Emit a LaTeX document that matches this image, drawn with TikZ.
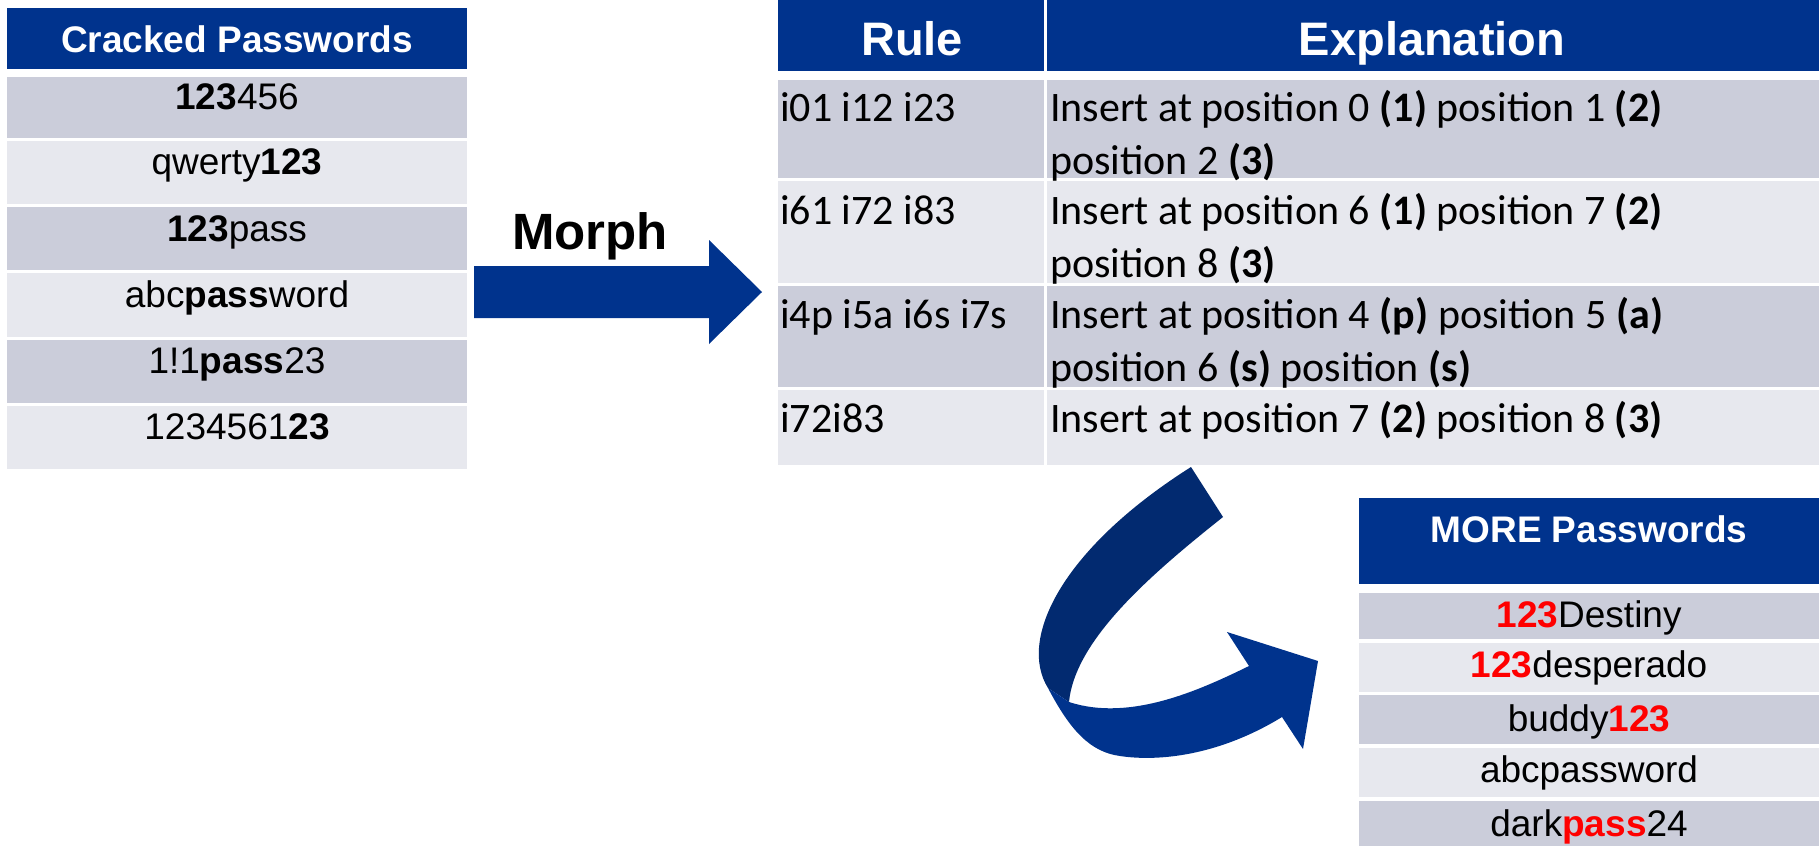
\documentclass[tikz,border=0pt]{standalone}
\usepackage{fontspec}
\setmainfont{Liberation Sans}
\newfontfamily\calfont{Carlito}
\definecolor{hdrblue}{RGB}{0,51,141}
\definecolor{backblue}{RGB}{2,42,112}
\definecolor{rowdark}{RGB}{203,205,218}
\definecolor{rowlight}{RGB}{231,232,238}
\definecolor{pwred}{RGB}{255,0,0}
\begin{document}
\begin{tikzpicture}[x=1pt,y=-1pt,
  cell/.style={anchor=north west, inner sep=0pt, outer sep=0pt, draw=none},
  ptxt/.style={anchor=base, inner sep=0pt, font=\fontsize{37}{44}\selectfont},
  htxt/.style={anchor=base, inner sep=0pt, text=white, font=\bfseries\fontsize{37}{44}\selectfont},
  bightxt/.style={anchor=base, inner sep=0pt, text=white, font=\bfseries\fontsize{47}{56}\selectfont},
  rtxt/.style={anchor=base west, inner sep=0pt, font=\calfont\fontsize{42}{50}\selectfont},
  morphtxt/.style={anchor=base, inner sep=0pt, font=\bfseries\fontsize{51}{60}\selectfont}]
\useasboundingbox (0,0) rectangle (1819,846);
\fill[white] (0,0) rectangle (1819,846);

% ---------- Left table: Cracked Passwords ----------
\node[cell, fill=hdrblue, minimum width=460pt, minimum height=61pt] (lh) at (7,8) {};
\node[cell, fill=rowdark,  minimum width=460pt, minimum height=61pt] (lr1) at (7,77) {};
\node[cell, fill=rowlight, minimum width=460pt, minimum height=63pt] (lr2) at (7,141) {};
\node[cell, fill=rowdark,  minimum width=460pt, minimum height=63pt] (lr3) at (7,207) {};
\node[cell, fill=rowlight, minimum width=460pt, minimum height=64pt] (lr4) at (7,273) {};
\node[cell, fill=rowdark,  minimum width=460pt, minimum height=63pt] (lr5) at (7,340) {};
\node[cell, fill=rowlight, minimum width=460pt, minimum height=63pt] (lr6) at (7,406) {};
\node[htxt] (lht) at (237,52) {Cracked Passwords};
\node[ptxt] (lt1) at (237,109) {\textbf{123}456};
\node[ptxt] (lt2) at (237,174) {qwerty\textbf{123}};
\node[ptxt] (lt3) at (237,241) {\textbf{123}pass};
\node[ptxt] (lt4) at (237,307) {abc\textbf{pass}word};
\node[ptxt] (lt5) at (237,373) {1!1\textbf{pass}23};
\node[ptxt] (lt6) at (237,439) {1234561\textbf{23}};

% ---------- Morph arrow ----------
\fill[hdrblue] (474,266) -- (709,266) -- (709,240) -- (762,292) -- (709,344) -- (709,318) -- (474,318) -- cycle;
\node[morphtxt] (morph) at (590,249) {Morph};

% ---------- Rule table ----------
\node[cell, fill=hdrblue, minimum width=266pt, minimum height=71pt] (rh1) at (778,0) {};
\node[cell, fill=hdrblue, minimum width=772pt, minimum height=71pt] (rh2) at (1047,0) {};
\node[cell, fill=rowdark,  minimum width=266pt, minimum height=98pt]  (ra1) at (778,80) {};
\node[cell, fill=rowdark,  minimum width=772pt, minimum height=98pt]  (rb1) at (1047,80) {};
\node[cell, fill=rowlight, minimum width=266pt, minimum height=102pt] (ra2) at (778,181) {};
\node[cell, fill=rowlight, minimum width=772pt, minimum height=102pt] (rb2) at (1047,181) {};
\node[cell, fill=rowdark,  minimum width=266pt, minimum height=101pt] (ra3) at (778,286) {};
\node[cell, fill=rowdark,  minimum width=772pt, minimum height=101pt] (rb3) at (1047,286) {};
\node[cell, fill=rowlight, minimum width=266pt, minimum height=75pt]  (ra4) at (778,390) {};
\node[cell, fill=rowlight, minimum width=772pt, minimum height=75pt]  (rb4) at (1047,390) {};
\node[bightxt] (rht1) at (912,55) {Rule};
\node[bightxt] (rht2) at (1432,55) {Explanation};

\node[rtxt] (ra1t) at (780,121) {i01 i12 i23};
\node[rtxt] (rb1t) at (1050,121) {Insert at position 0 \textbf{(1)} position 1 \textbf{(2)}};
\node[rtxt] (rb1u) at (1050,174) {position 2 \textbf{(3)}};
\node[rtxt] (ra2t) at (780,224) {i61 i72 i83};
\node[rtxt] (rb2t) at (1050,224) {Insert at position 6 \textbf{(1)} position 7 \textbf{(2)}};
\node[rtxt] (rb2u) at (1050,277) {position 8 \textbf{(3)}};
\node[rtxt] (ra3t) at (780,328) {i4p i5a i6s i7s};
\node[rtxt] (rb3t) at (1050,328) {Insert at position 4 \textbf{(p)} position 5 \textbf{(a)}};
\node[rtxt] (rb3u) at (1050,381) {position 6 \textbf{(s)} position \textbf{(s)}};
\node[rtxt] (ra4t) at (780,432) {i72i83};
\node[rtxt] (rb4t) at (1050,432) {Insert at position 7 \textbf{(2)} position 8 \textbf{(3)}};

% ---------- Curved ribbon arrow ----------
\fill[backblue] (1191,467) -- (1223,517)
  .. controls (1150,575) and (1075,640) .. (1069,702)
  -- (1048,688)
  .. controls (1018,640) and (1060,550) .. (1191,467) -- cycle;
\fill[hdrblue] (1048,688) -- (1069,702)
  .. controls (1130,722) and (1200,690) .. (1249,666)
  -- (1227,632) -- (1318,661) -- (1303,749) -- (1282,717)
  .. controls (1220,755) and (1160,762) .. (1120,756)
  .. controls (1090,752) and (1070,730) .. (1048,688) -- cycle;

% ---------- MORE Passwords table ----------
\node[cell, fill=hdrblue, minimum width=460pt, minimum height=86pt] (mh) at (1359,498) {};
\node[cell, fill=rowdark,  minimum width=460pt, minimum height=46pt] (mr1) at (1359,593) {};
\node[cell, fill=rowlight, minimum width=460pt, minimum height=49pt] (mr2) at (1359,643) {};
\node[cell, fill=rowdark,  minimum width=460pt, minimum height=49pt] (mr3) at (1359,695) {};
\node[cell, fill=rowlight, minimum width=460pt, minimum height=49pt] (mr4) at (1359,748) {};
\node[cell, fill=rowdark,  minimum width=460pt, minimum height=45pt] (mr5) at (1359,801) {};
\node[htxt] (mht) at (1589,542) {MORE Passwords};
\node[ptxt] (mt1) at (1589,627) {\textcolor{pwred}{\textbf{123}}Destiny};
\node[ptxt] (mt2) at (1589,677) {\textcolor{pwred}{\textbf{123}}desperado};
\node[ptxt] (mt3) at (1589,731) {buddy\textcolor{pwred}{\textbf{123}}};
\node[ptxt] (mt4) at (1589,782) {abcpassword};
\node[ptxt] (mt5) at (1589,836) {dark\textcolor{pwred}{\textbf{pass}}24};
\end{tikzpicture}
\end{document}
